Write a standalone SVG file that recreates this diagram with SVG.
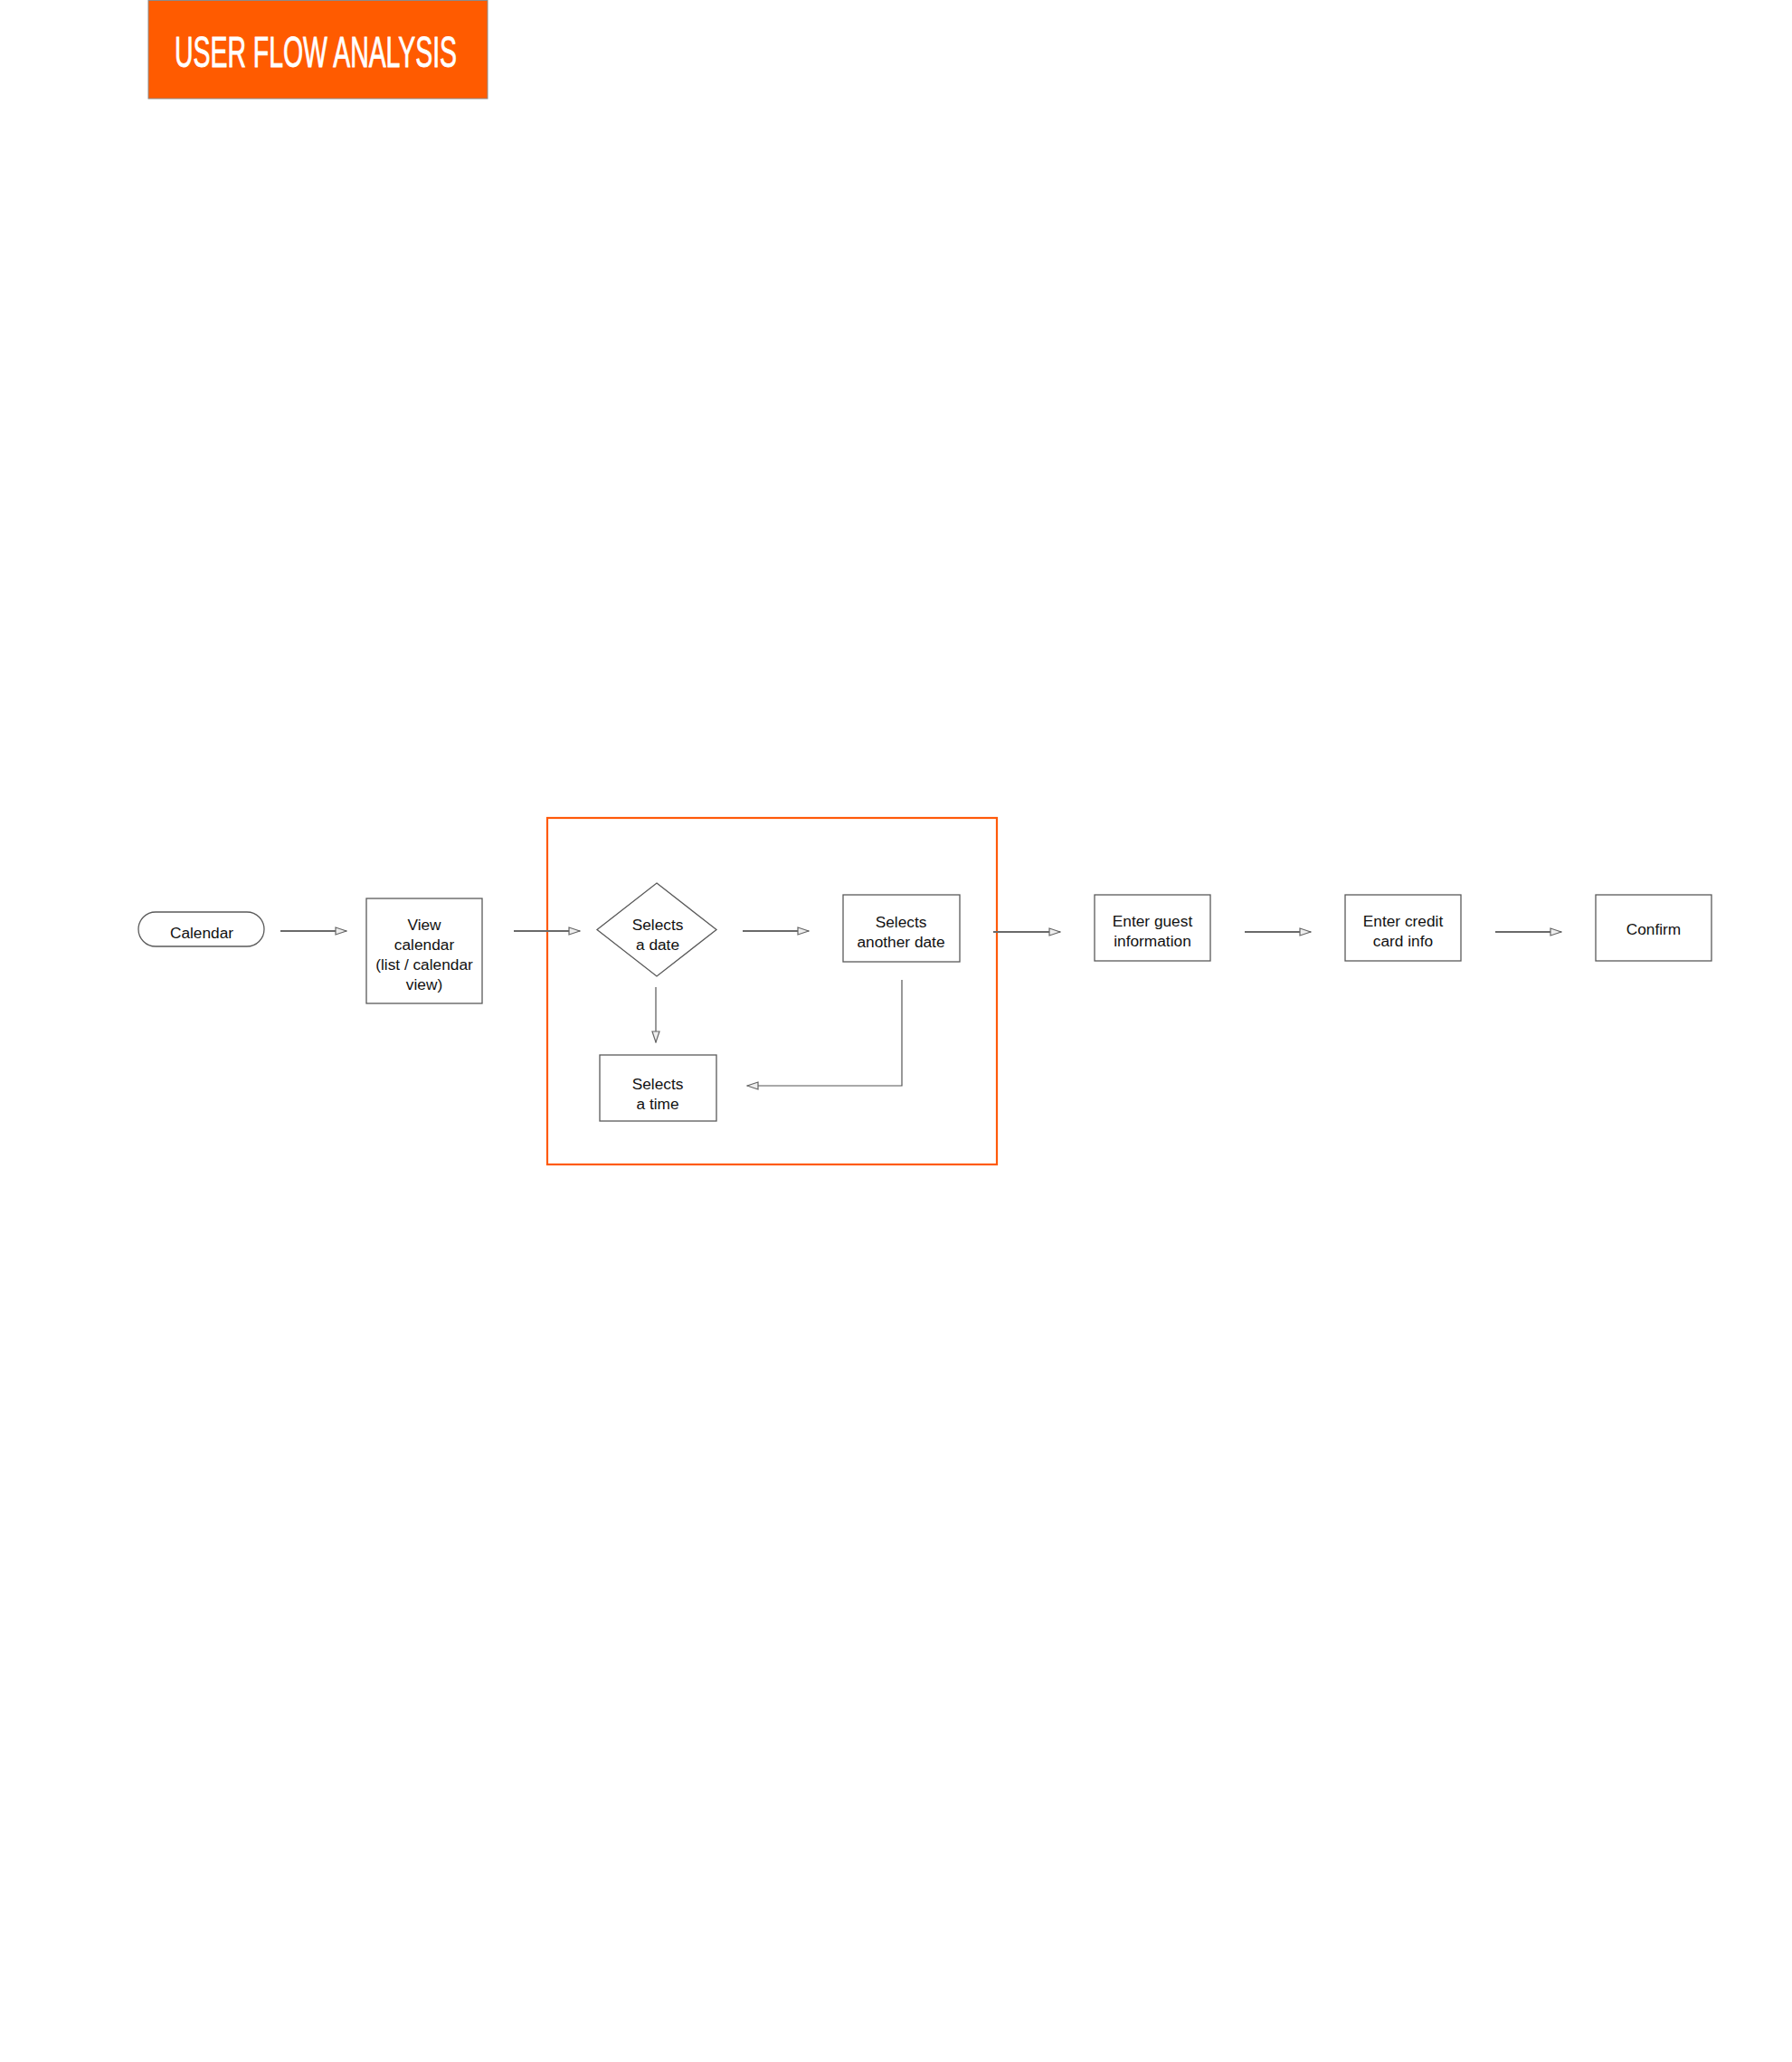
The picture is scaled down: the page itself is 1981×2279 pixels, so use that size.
<svg xmlns="http://www.w3.org/2000/svg" width="1981" height="2279" viewBox="0 0 1981 2279">
<style>
.node{fill:#fff;stroke:#5a5a5a;stroke-width:1.3}
.lbl{font-family:"Liberation Sans",Arial,sans-serif;font-size:17.3px;fill:#111;text-anchor:middle}
.conn{fill:none;stroke:#6a6a6a;stroke-width:1.9}
.conn-thin{fill:none;stroke:#555;stroke-width:1.2}
</style>
<defs>
<marker id="arr" markerUnits="userSpaceOnUse" markerWidth="14" markerHeight="10" refX="12" refY="4" orient="auto" viewBox="-1 -1 14 10">
<path d="M0,0 L12,4 L0,8 Z" fill="#eee" stroke="#666" stroke-width="1.2"/>
</marker>
</defs>
<rect width="1981" height="2279" fill="#fff"/>
<g id="title">
<rect x="164" y="0.5" width="375" height="108.5" fill="#ff5b00" stroke="#8a8a8a" stroke-width="1"/>
<text x="193" y="74" font-family="Liberation Sans, Arial, sans-serif" font-size="49" fill="#fff" stroke="#fff" stroke-width="0.9" textLength="312" lengthAdjust="spacingAndGlyphs">USER FLOW ANALYSIS</text>
</g>
<g id="group-box">
<rect x="605" y="904" width="497" height="383" fill="none" stroke="#ff5a0a" stroke-width="2.2"/>
</g>
<g id="connectors">
<path class="conn" d="M310,1029 H383" marker-end="url(#arr)"/>
<path class="conn" d="M568,1029 H641" marker-end="url(#arr)"/>
<path class="conn" d="M821,1029 H894" marker-end="url(#arr)"/>
<path class="conn-thin" d="M725,1091 V1152" marker-end="url(#arr)"/>
<path class="conn-thin" d="M997,1083 V1200 H826" marker-end="url(#arr)"/>
<path class="conn" d="M1098,1030 H1172" marker-end="url(#arr)"/>
<path class="conn" d="M1376,1030 H1449" marker-end="url(#arr)"/>
<path class="conn" d="M1653,1030 H1726" marker-end="url(#arr)"/>
</g>
<g id="n-calendar">
<rect class="node" x="153" y="1008" width="139" height="38" rx="19"/>
<text class="lbl" x="223" y="1037">Calendar</text>
</g>
<g id="n-view">
<rect class="node" x="405" y="993" width="128" height="116"/>
<text class="lbl" x="469" y="1028">View</text>
<text class="lbl" x="469" y="1050">calendar</text>
<text class="lbl" x="469" y="1072">(list / calendar</text>
<text class="lbl" x="469" y="1094">view)</text>
</g>
<g id="n-date">
<polygon class="node" points="726,976 792,1027.5 726,1079 660,1027.5"/>
<text class="lbl" x="727" y="1028">Selects</text>
<text class="lbl" x="727" y="1050">a date</text>
</g>
<g id="n-another">
<rect class="node" x="932" y="989" width="129" height="74"/>
<text class="lbl" x="996" y="1025">Selects</text>
<text class="lbl" x="996" y="1047">another date</text>
</g>
<g id="n-time">
<rect class="node" x="663" y="1166" width="129" height="73"/>
<text class="lbl" x="727" y="1204">Selects</text>
<text class="lbl" x="727" y="1226">a time</text>
</g>
<g id="n-guest">
<rect class="node" x="1210" y="989" width="128" height="73"/>
<text class="lbl" x="1274" y="1024">Enter guest</text>
<text class="lbl" x="1274" y="1046">information</text>
</g>
<g id="n-credit">
<rect class="node" x="1487" y="989" width="128" height="73"/>
<text class="lbl" x="1551" y="1024">Enter credit</text>
<text class="lbl" x="1551" y="1046">card info</text>
</g>
<g id="n-confirm">
<rect class="node" x="1764" y="989" width="128" height="73"/>
<text class="lbl" x="1828" y="1033">Confirm</text>
</g>
</svg>
